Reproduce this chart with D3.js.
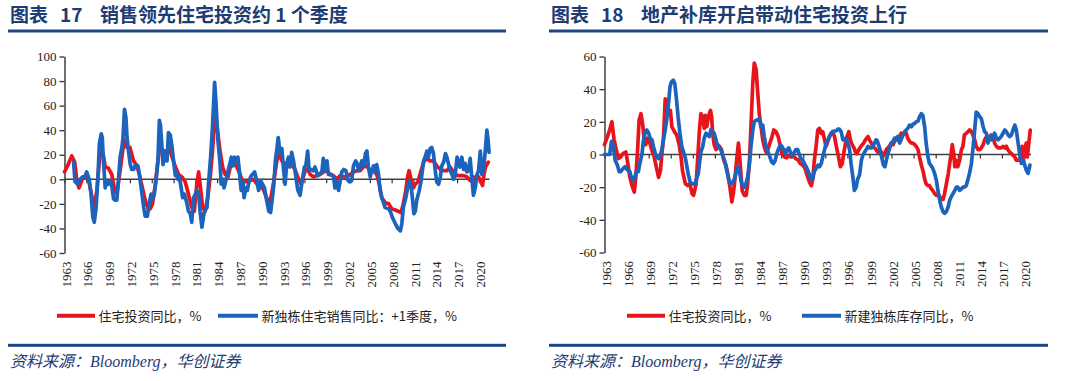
<!DOCTYPE html>
<html><head><meta charset="utf-8">
<script src="https://cdn.jsdelivr.net/npm/d3@7"></script>
<style>body{margin:0;background:#fff}svg{display:block}</style>
</head><body>
<svg id="c" width="1080" height="381"></svg>
<script>
// ---------- DATA ----------
const xTickYears = [1963,1966,1969,1972,1975,1978,1981,1984,1987,1990,1993,1996,1999,2002,2005,2008,2011,2014,2017,2020];
const yTicksL = [-60,-40,-20,0,20,40,60,80,100];
const yTicksR = [-60,-40,-20,0,20,40,60];

// 图表17: 住宅投资同比 (red)
const invL = [[1963.0,6],[1963.5,12],[1964.0,19],[1964.4,14],[1964.7,-1],[1965.0,-7],[1965.3,-2],[1965.6,2],[1966.0,2],[1966.3,0],[1966.8,-15],[1967.1,-23],[1967.45,-9],[1967.8,15],[1968.05,26],[1968.4,18],[1968.6,10],[1969.05,9],[1969.5,4],[1969.9,-9],[1970.2,-12],[1970.65,7],[1971.0,23],[1971.25,32],[1971.6,26],[1972.0,26],[1972.5,15],[1972.95,11],[1973.3,4],[1973.6,-4],[1974.1,-17],[1974.45,-23],[1974.8,-24],[1975.1,-20],[1975.5,-4],[1975.85,15],[1976.1,26],[1976.6,23],[1977.1,23],[1977.4,26],[1977.8,18],[1978.2,11],[1978.7,4],[1979.15,2],[1979.6,-2],[1980.05,-12],[1980.5,-23],[1980.85,-26],[1981.2,-4],[1981.45,6],[1981.65,-4],[1982.0,-23],[1982.35,-26],[1982.7,-15],[1983.05,2],[1983.35,23],[1983.65,48],[1983.85,50],[1984.1,37],[1984.4,23],[1984.75,10],[1985.1,4],[1985.5,2],[1985.8,10],[1986.25,15],[1986.6,11],[1986.95,7],[1987.4,0],[1987.8,-2],[1988.1,-2],[1988.55,-1],[1989.0,0],[1989.5,-4],[1989.9,-4],[1990.4,-9],[1990.85,-16],[1991.15,-20],[1991.5,-12],[1991.9,3],[1992.2,15],[1992.5,21],[1992.9,15],[1993.35,12],[1993.8,15],[1994.25,12],[1994.7,8],[1995.2,0],[1995.55,-4],[1995.9,3],[1996.1,7],[1996.45,8],[1996.8,4],[1997.25,2],[1997.7,3],[1998.15,4],[1998.6,6],[1999.1,7],[1999.5,4],[2000.0,3],[2000.45,0],[2000.9,3],[2001.4,2],[2001.8,2],[2002.3,4],[2002.75,6],[2003.2,7],[2003.65,7],[2004.1,10],[2004.6,11],[2005.0,7],[2005.5,7],[2005.95,4],[2006.3,-4],[2006.65,-15],[2007.1,-19],[2007.6,-20],[2008.0,-24],[2008.5,-25],[2008.9,-26],[2009.3,-27],[2009.6,-20],[2009.95,-9],[2010.2,2],[2010.4,7],[2010.7,-1],[2011.0,-7],[2011.25,-4],[2011.6,-2],[2011.9,4],[2012.4,14],[2012.8,17],[2013.3,15],[2013.75,15],[2014.2,11],[2014.7,8],[2015.1,7],[2015.6,7],[2016.05,10],[2016.5,6],[2017.0,3],[2017.45,3],[2017.9,3],[2018.35,2],[2018.8,-1],[2019.25,2],[2019.6,-1],[2019.95,2],[2020.3,-2],[2020.5,-5],[2020.7,4],[2020.9,10],[2021.1,12],[2021.3,14]];

// 图表17: 新独栋住宅销售同比 +1季度 (blue)
const salesL = [[1964.25,14],[1964.45,-2],[1964.8,-4],[1965.15,0],[1965.5,2],[1965.75,1],[1966.05,6],[1966.4,0],[1966.65,-12],[1966.9,-31],[1967.1,-35],[1967.35,-23],[1967.6,2],[1967.8,29],[1968.05,37],[1968.2,34],[1968.35,15],[1968.6,-7],[1968.8,-2],[1969.05,-4],[1969.3,-1],[1969.5,-5],[1969.75,-16],[1970.0,-17],[1970.2,-17],[1970.45,2],[1970.65,18],[1970.9,26],[1971.05,34],[1971.25,57],[1971.45,50],[1971.6,34],[1971.8,23],[1972.05,12],[1972.25,8],[1972.5,8],[1972.8,12],[1973.1,11],[1973.3,4],[1973.55,-7],[1973.9,-23],[1974.1,-30],[1974.4,-30],[1974.65,-20],[1974.9,-12],[1975.1,-16],[1975.35,-12],[1975.6,0],[1975.85,15],[1976.05,48],[1976.2,44],[1976.4,27],[1976.55,12],[1976.65,15],[1976.85,23],[1977.1,15],[1977.3,38],[1977.55,36],[1977.8,26],[1978.0,15],[1978.25,3],[1978.35,7],[1978.6,0],[1978.8,2],[1979.05,-7],[1979.25,-15],[1979.5,-12],[1979.85,-20],[1980.05,-26],[1980.3,-28],[1980.5,-35],[1980.75,-15],[1981.0,-12],[1981.2,-9],[1981.45,-12],[1981.65,-26],[1981.9,-39],[1982.1,-31],[1982.25,-26],[1982.6,-23],[1982.8,-4],[1983.1,18],[1983.35,42],[1983.65,79],[1983.85,61],[1984.1,32],[1984.4,13],[1984.55,-4],[1984.8,0],[1984.95,-7],[1985.2,-1],[1985.5,7],[1985.75,13],[1985.95,18],[1986.15,11],[1986.4,18],[1986.6,15],[1986.85,18],[1987.05,7],[1987.3,-9],[1987.55,-2],[1987.7,-15],[1987.95,-7],[1988.15,-9],[1988.3,-4],[1988.6,2],[1988.85,4],[1989.15,6],[1989.4,0],[1989.7,-9],[1989.95,-1],[1990.25,-4],[1990.5,-7],[1990.8,-17],[1991.1,-26],[1991.35,-27],[1991.6,-15],[1991.8,-4],[1992.0,15],[1992.2,24],[1992.4,34],[1992.65,21],[1992.9,25],[1993.1,10],[1993.35,-4],[1993.55,12],[1993.8,18],[1994.0,10],[1994.25,22],[1994.5,15],[1994.7,7],[1995.1,-9],[1995.4,-13],[1995.7,-1],[1996.0,10],[1996.2,11],[1996.45,23],[1996.65,7],[1996.9,8],[1997.25,7],[1997.45,10],[1997.85,3],[1998.05,4],[1998.4,6],[1998.6,17],[1998.85,7],[1999.1,15],[1999.3,4],[1999.7,4],[2000.0,2],[2000.2,-7],[2000.45,-2],[2000.7,-9],[2000.9,-2],[2001.15,6],[2001.4,8],[2001.7,7],[2002.0,-1],[2002.3,-2],[2002.5,-1],[2002.75,11],[2003.05,15],[2003.25,13],[2003.45,7],[2003.65,10],[2003.9,15],[2004.15,11],[2004.4,21],[2004.6,23],[2004.8,10],[2005.05,2],[2005.25,7],[2005.5,11],[2005.7,6],[2005.95,12],[2006.2,4],[2006.4,-9],[2006.65,-15],[2007.1,-23],[2007.6,-24],[2007.8,-26],[2008.1,-31],[2008.5,-36],[2008.85,-40],[2009.2,-42],[2009.4,-36],[2009.6,-23],[2009.95,-15],[2010.2,-7],[2010.45,-1],[2010.7,-7],[2010.85,-15],[2011.05,-28],[2011.25,-26],[2011.45,-17],[2011.8,-9],[2012.05,-1],[2012.4,15],[2012.6,18],[2012.85,23],[2013.05,18],[2013.3,25],[2013.5,26],[2013.75,21],[2014.0,7],[2014.2,-2],[2014.45,-4],[2014.7,2],[2014.9,11],[2015.15,14],[2015.4,21],[2015.6,18],[2015.8,13],[2016.05,7],[2016.3,4],[2016.5,0],[2016.75,4],[2017.0,18],[2017.2,13],[2017.4,10],[2017.65,18],[2017.9,8],[2018.1,13],[2018.35,6],[2018.55,7],[2018.8,17],[2019.0,3],[2019.25,-13],[2019.5,-7],[2019.7,3],[2019.95,7],[2020.2,23],[2020.4,4],[2020.6,7],[2020.85,21],[2021.1,40],[2021.25,33],[2021.4,22]];

// 图表18: 住宅投资同比 (red)
const invR = [[1963.0,6],[1963.4,11],[1963.7,15],[1964.0,20],[1964.3,9],[1964.6,3],[1964.9,-2.5],[1965.2,-1.5],[1965.5,0.5],[1965.9,1.5],[1966.1,-3.5],[1966.45,-14],[1966.8,-20],[1967.05,-23],[1967.25,-14],[1967.5,3],[1967.7,21],[1967.95,25],[1968.2,18],[1968.4,9],[1968.6,6],[1968.85,10],[1969.1,8],[1969.4,3],[1969.75,-1.5],[1970.1,-9],[1970.35,-14],[1970.6,-10],[1970.8,0.5],[1971.0,9],[1971.25,34],[1971.5,33],[1971.7,25],[1971.95,27],[1972.15,17],[1972.5,14],[1972.8,12],[1973.15,6],[1973.4,-1.5],[1973.6,-10],[1974.0,-18],[1974.3,-19],[1974.6,-18],[1974.9,-24],[1975.1,-25],[1975.45,-18],[1975.65,-3.5],[1975.9,15],[1976.1,25],[1976.35,23],[1976.55,16],[1976.7,24],[1976.9,17],[1977.1,23],[1977.4,27],[1977.55,23],[1977.7,13],[1977.9,6],[1978.15,3],[1978.4,6],[1978.6,5],[1978.9,3],[1979.2,-3.5],[1979.5,-6.5],[1979.8,-13],[1980.05,-20],[1980.3,-29],[1980.5,-24],[1980.75,-14],[1980.95,-3.5],[1981.2,7],[1981.4,-3.5],[1981.7,-22],[1982.0,-25],[1982.25,-25],[1982.45,-18],[1982.7,-3.5],[1982.9,17],[1983.15,44],[1983.35,56],[1983.6,52],[1983.8,39],[1984.05,24],[1984.3,16],[1984.5,9],[1984.7,5],[1984.95,1.5],[1985.2,3],[1985.4,6],[1985.7,10],[1986.0,15],[1986.3,14],[1986.6,11],[1986.9,5],[1987.1,0.5],[1987.45,-1.5],[1987.75,-2],[1988.05,-0.5],[1988.35,-1.5],[1988.65,-1],[1989.0,-2.5],[1989.35,-3.5],[1989.6,-5.5],[1989.95,-6.5],[1990.25,-8.5],[1990.55,-13],[1990.85,-17],[1991.1,-19],[1991.3,-15],[1991.5,-4],[1991.75,5],[1991.98,15],[1992.2,16],[1992.45,13],[1992.65,14],[1992.9,9],[1993.1,5],[1993.35,8],[1993.55,11],[1993.8,13],[1994.0,14],[1994.25,11],[1994.5,5],[1994.8,-1.5],[1995.05,-7.5],[1995.3,-5.5],[1995.5,0.5],[1995.75,7],[1995.95,11],[1996.2,14],[1996.4,9],[1996.65,6],[1996.9,4],[1997.1,1.5],[1997.3,0.5],[1997.55,3],[1997.85,5],[1998.2,7],[1998.45,9],[1998.8,11],[1999.0,9],[1999.25,7],[1999.45,5],[1999.7,4],[1999.9,3],[2000.15,1.5],[2000.4,3],[2000.6,1.5],[2000.8,-1.5],[2001.05,0.5],[2001.3,3],[2001.5,4],[2001.7,5],[2001.95,7],[2002.2,6],[2002.4,8],[2002.6,10],[2002.85,9],[2003.1,11],[2003.3,13],[2003.55,12],[2003.8,14],[2004.0,13],[2004.2,10],[2004.45,8],[2004.7,7],[2004.9,7],[2005.15,6],[2005.35,5],[2005.6,3],[2005.8,-1.5],[2006.05,-6.5],[2006.3,-10.5],[2006.5,-15],[2006.7,-18],[2006.95,-19],[2007.15,-19],[2007.4,-21],[2007.6,-22],[2007.85,-24],[2008.1,-25],[2008.3,-24],[2008.55,-26],[2008.75,-27],[2009.0,-27.5],[2009.2,-24],[2009.45,-18],[2009.7,-12],[2009.9,-5.5],[2010.1,0.5],[2010.25,6],[2010.45,0.5],[2010.6,-7.5],[2010.8,-3.5],[2011.0,-7.5],[2011.25,-3.5],[2011.5,3],[2011.7,5],[2011.9,12],[2012.15,13],[2012.4,14],[2012.6,15],[2012.85,14],[2013.05,12],[2013.3,9],[2013.5,5],[2013.75,3],[2014.0,3],[2014.2,4],[2014.45,6],[2014.65,9],[2014.9,11],[2015.1,10],[2015.35,11],[2015.55,12],[2015.8,11],[2016.0,7],[2016.25,5],[2016.5,4],[2016.9,4],[2017.15,5],[2017.4,4],[2017.6,5],[2017.8,3],[2018.05,1.5],[2018.3,0.5],[2018.5,-0.5],[2018.75,-1.5],[2018.95,-3.5],[2019.4,-3.5],[2019.55,-1.5],[2019.75,5],[2019.9,-4.5],[2020.1,3],[2020.3,7],[2020.45,-1.5],[2020.7,9],[2020.85,15]];

// 图表18: 新建独栋库存同比 (blue)
const stockR = [[1963.0,0],[1963.7,0],[1963.95,8],[1964.2,5],[1964.45,-3.5],[1964.75,-6.5],[1965.0,-10.5],[1965.2,-10.5],[1965.55,-8.5],[1965.8,-7.5],[1966.1,-9.5],[1966.45,-10.5],[1966.65,-14],[1966.9,-16],[1967.1,-14],[1967.35,-10.5],[1967.6,-10.5],[1967.8,-5.5],[1968.1,0.5],[1968.3,9],[1968.55,14],[1968.75,15],[1969.0,13],[1969.2,10],[1969.45,9],[1969.65,5],[1969.9,0.5],[1970.1,-1.5],[1970.35,-2.5],[1970.55,-1],[1970.8,3],[1971.0,9],[1971.25,15],[1971.5,23],[1971.7,31],[1971.9,41.5],[1972.1,44.5],[1972.35,45.5],[1972.55,43.5],[1972.8,33],[1973.0,23],[1973.25,13],[1973.5,5],[1973.75,1.5],[1974.0,-2.5],[1974.2,-7.5],[1974.4,-12.5],[1974.65,-17],[1974.95,-18],[1975.3,-18],[1975.5,-15],[1975.75,-11.5],[1975.9,-5.5],[1976.1,1.5],[1976.35,5],[1976.55,10],[1976.8,13],[1977.0,12],[1977.25,11],[1977.45,15],[1977.7,14],[1977.9,13],[1978.15,9],[1978.35,5],[1978.6,4],[1978.8,3],[1979.05,-0.5],[1979.3,-3.5],[1979.5,-7.5],[1979.75,-12.5],[1979.95,-17],[1980.2,-18],[1980.4,-17],[1980.65,-15],[1980.85,-11.5],[1981.1,-7.5],[1981.3,-9.5],[1981.55,-16],[1981.75,-19],[1982.0,-20],[1982.2,-18],[1982.45,-14],[1982.7,-5.5],[1982.9,5],[1983.15,15],[1983.35,20],[1983.6,21],[1983.8,21],[1984.05,22],[1984.25,17],[1984.5,18],[1984.7,11],[1984.95,5],[1985.2,1.5],[1985.4,-0.5],[1985.7,-4.5],[1985.95,-5.5],[1986.2,-3.5],[1986.4,0.5],[1986.7,4],[1986.9,6],[1987.1,5],[1987.35,3],[1987.6,0.5],[1987.8,3],[1988.05,4],[1988.25,1.5],[1988.5,-0.5],[1988.7,0.5],[1989.0,3],[1989.25,3],[1989.5,-0.5],[1989.7,-2.5],[1989.95,-3.5],[1990.15,-5.5],[1990.4,-7.5],[1990.6,-9.5],[1990.85,-12.5],[1991.05,-15],[1991.3,-15],[1991.5,-10.5],[1991.75,-8.5],[1992.0,-6.5],[1992.2,-7.5],[1992.45,-5.5],[1992.65,-1.5],[1992.9,3],[1993.1,7],[1993.35,9],[1993.55,10.5],[1993.8,13],[1994.0,14],[1994.5,14.5],[1994.7,15.5],[1994.9,15.5],[1995.15,14],[1995.4,9],[1995.6,9],[1995.8,10],[1996.05,7],[1996.3,3],[1996.5,-5.5],[1996.75,-14],[1996.95,-22],[1997.2,-20],[1997.4,-15],[1997.65,-12.5],[1997.9,-3.5],[1998.1,-0.5],[1998.35,1.5],[1998.55,3],[1998.8,5],[1999.0,4],[1999.25,4],[1999.45,5],[1999.7,7],[1999.9,9],[2000.05,8.5],[2000.3,5],[2000.5,1.5],[2000.7,-2.5],[2000.9,-6.5],[2001.1,-7.5],[2001.3,-3.5],[2001.5,0.5],[2001.7,3],[2001.95,7],[2002.2,8],[2002.4,10],[2002.65,9],[2002.85,11],[2003.1,7],[2003.3,9],[2003.55,12],[2003.8,14],[2004.0,15],[2004.2,16],[2004.45,18],[2004.7,17],[2004.9,18.5],[2005.15,19],[2005.35,20],[2005.6,20.5],[2005.8,23],[2006.05,25],[2006.25,24],[2006.5,17],[2006.7,7],[2006.95,-1.5],[2007.15,-5.5],[2007.4,-7],[2007.6,-8.5],[2007.85,-11.5],[2008.1,-16],[2008.3,-22],[2008.55,-28],[2008.75,-32],[2009.0,-35],[2009.2,-36],[2009.45,-35],[2009.7,-32],[2009.9,-28],[2010.1,-26],[2010.35,-24],[2010.6,-22],[2010.8,-20],[2011.0,-20],[2011.25,-22],[2011.5,-21],[2011.7,-20],[2011.9,-20],[2012.15,-19],[2012.4,-15],[2012.6,-11.5],[2012.85,-5.5],[2013.05,3],[2013.3,15],[2013.5,26],[2013.75,25],[2014.0,23],[2014.2,22],[2014.45,17],[2014.65,14],[2014.9,13],[2015.1,7],[2015.35,11],[2015.55,9],[2015.8,11],[2016.0,13],[2016.25,10],[2016.45,9],[2016.7,10],[2016.9,11],[2017.15,13],[2017.4,15],[2017.6,14],[2017.85,12],[2018.05,11],[2018.3,12],[2018.5,15],[2018.75,18],[2018.95,15],[2019.2,7],[2019.4,0.5],[2019.65,-5.5],[2019.9,-3.5],[2020.1,-6.5],[2020.3,-9.5],[2020.55,-11.5],[2020.8,-6.5]];

const titles = [
  {num:"17", text:"销售领先住宅投资约 1 个季度"},
  {num:"18", text:"地产补库开启带动住宅投资上行"}
];
const legendL = ["住宅投资同比，%", "新独栋住宅销售同比：+1季度，%"];
const legendR = ["住宅投资同比，%", "新建独栋库存同比，%"];
const sourceText = ["资料来源：", "Bloomberg", "，华创证券"];

// ---------- STYLE ----------
const RED = "#e8141c", BLUE = "#1b63bd", NAVY = "#1d3c73", RULE = "#1e4684";
const CJK = "'Noto Sans CJK SC','Noto Sans',sans-serif";
const SERIF = "'Liberation Serif','Times New Roman',serif";

const svg = d3.select("#c");

function panel(cfg) {
  const g = svg.append("g");
  const x = d3.scaleLinear().domain([1963, 2020]).range([cfg.x0, cfg.x1]);
  const y = d3.scaleLinear().domain([cfg.yTicks[0], cfg.yTicks[cfg.yTicks.length-1]]).range([cfg.yBottom, cfg.yTop]);

  // title
  const t = g.append("text").attr("y", 22.3).attr("font-family", CJK).attr("font-weight", 700)
    .attr("font-size", 19).attr("fill", NAVY);
  t.append("tspan").attr("x", cfg.left + 2).text("图表");
  t.append("tspan").attr("x", cfg.left + 52).text(cfg.title.num);
  t.append("tspan").attr("x", cfg.left + 92).text(cfg.title.text);

  // rules
  g.append("rect").attr("x", cfg.left).attr("y", 29.5).attr("width", cfg.ruleW).attr("height", 3).attr("fill", RULE);
  g.append("rect").attr("x", cfg.left).attr("y", 343.8).attr("width", cfg.ruleW).attr("height", 3).attr("fill", RULE);

  // y axis
  g.append("g").attr("transform", `translate(${cfg.x0},0)`)
    .call(d3.axisLeft(y).tickValues(cfg.yTicks).tickSize(5).tickSizeOuter(0).tickPadding(3).tickFormat(d => String(d)))
    .call(s => {
      s.select(".domain").attr("stroke", "#333").attr("stroke-width", 1.4);
      s.selectAll(".tick line").attr("stroke", "#333").attr("stroke-width", 1.3);
      s.selectAll(".tick text").attr("font-family", SERIF).attr("font-size", 13).attr("fill", "#222");
    });

  // zero line + ticks
  g.append("line").attr("x1", cfg.x0).attr("x2", x(cfg.zeroEnd)).attr("y1", y(0)).attr("y2", y(0))
    .attr("stroke", "#404040").attr("stroke-width", 1.5);
  g.append("g").attr("transform", `translate(0,${y(0)})`)
    .call(d3.axisBottom(x).tickValues(xTickYears).tickSize(4).tickSizeOuter(0).tickFormat(""))
    .call(s => { s.select(".domain").remove(); s.selectAll(".tick line").attr("stroke", "#333").attr("stroke-width", 1.2); });

  // x labels (rotated)
  g.append("g").selectAll("text").data(xTickYears).join("text")
    .attr("transform", d => `translate(${x(d) + 1.5},${cfg.yBottom + 8.5}) rotate(-90)`)
    .attr("text-anchor", "end").attr("dy", "0.35em")
    .attr("font-family", SERIF).attr("font-size", 13).attr("fill", "#222")
    .text(d => d);

  // lines
  const line = d3.line().x(d => x(d[0])).y(d => y(d[1]));
  [[cfg.red, RED], [cfg.blue, BLUE]].forEach(([data, col]) => {
    g.append("path").datum(data).attr("d", line).attr("fill", "none").attr("stroke", col)
      .attr("stroke-width", 3.7).attr("stroke-linejoin", "round").attr("stroke-linecap", "round");
  });

  // legend
  const lg = g.append("g");
  cfg.legend.forEach((lab, i) => {
    const it = cfg.legendPos[i];
    lg.append("line").attr("x1", it[0]).attr("x2", it[1]).attr("y1", 315.7).attr("y2", 315.7)
      .attr("stroke", i === 0 ? RED : BLUE).attr("stroke-width", 4);
    lg.append("text").attr("x", it[1] + 3.5).attr("y", 320.6).attr("font-family", CJK)
      .attr("font-size", 13).attr("fill", "#222").text(lab);
  });

  // source
  const st = g.append("text").attr("x", cfg.left + 2).attr("y", 367).attr("font-size", 16)
    .attr("font-style", "italic").attr("fill", NAVY).attr("font-family", CJK);
  st.append("tspan").text(sourceText[0]);
  st.append("tspan").attr("font-family", SERIF).text(sourceText[1]);
  st.append("tspan").text(sourceText[2]);
}

panel({left: 8, ruleW: 498, x0: 64.5, x1: 64.5 + 57 * 7.27, yTop: 56.5, yBottom: 253, yTicks: yTicksL,
  zeroEnd: 2021.45, red: invL, blue: salesL, title: titles[0], legend: legendL,
  legendPos: [[57, 95], [218, 258]]});
panel({left: 549, ruleW: 499, x0: 604.5, x1: 604.5 + 57 * 7.36, yTop: 56.5, yBottom: 252.5, yTicks: yTicksR,
  zeroEnd: 2020.95, red: invR, blue: stockR, title: titles[1], legend: legendR,
  legendPos: [[627, 665], [802, 841]]});
</script>
</body></html>
